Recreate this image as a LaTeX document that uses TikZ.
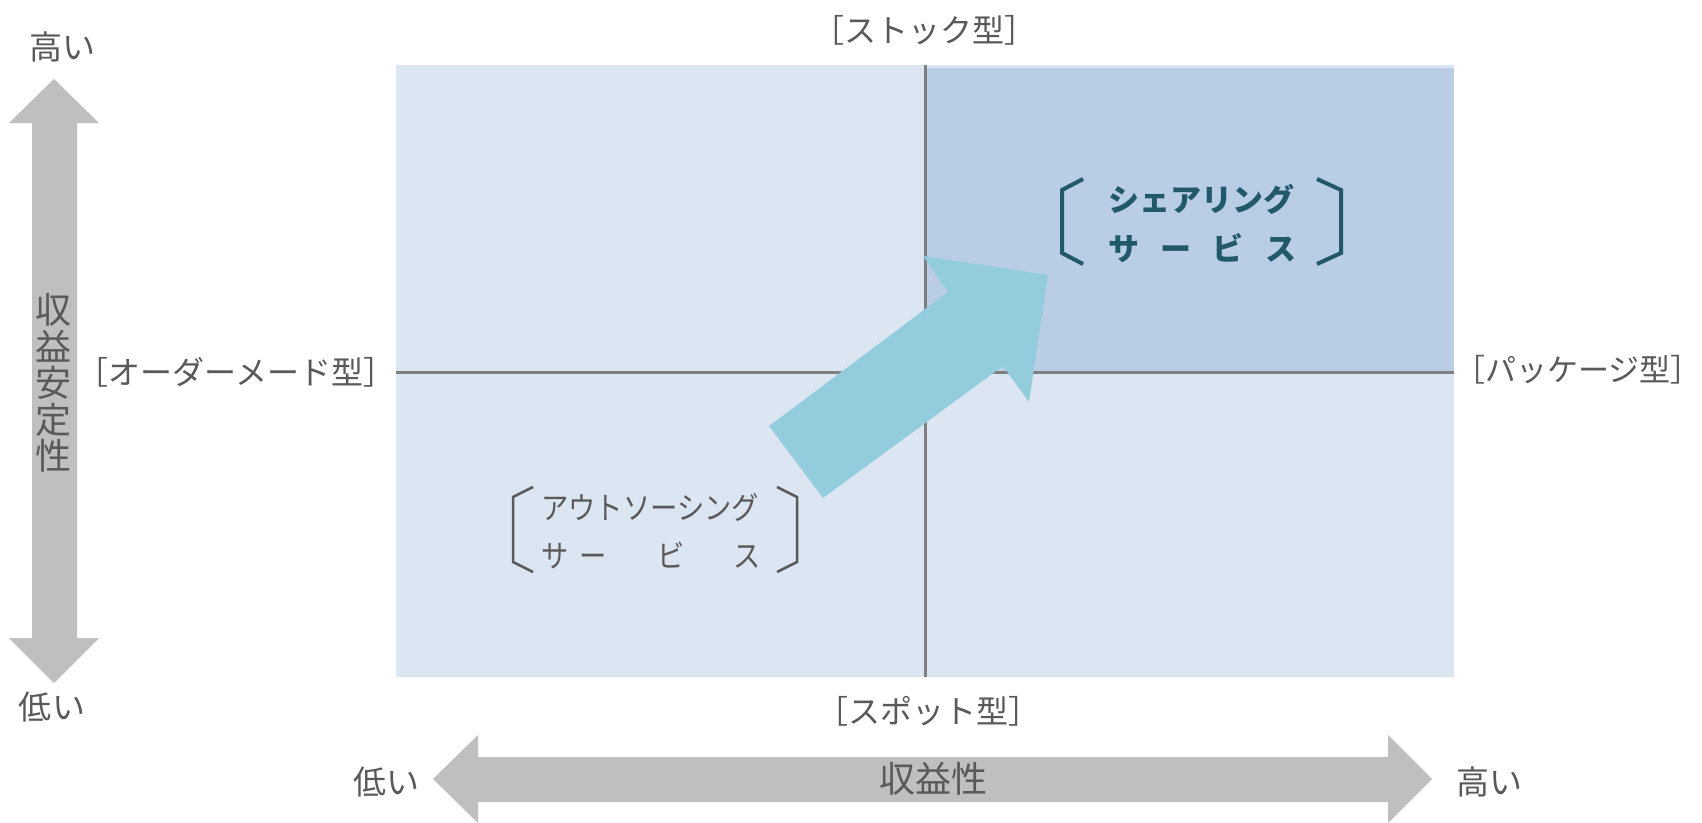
\documentclass[tikz,border=0pt]{standalone}
\usepackage{fontspec}
\newfontfamily\jp{Noto Sans CJK JP}
\newfontfamily\jpn[FakeStretch=0.88]{Noto Sans CJK JP}
\definecolor{lightq}{HTML}{DCE6F2}
\definecolor{darkq}{HTML}{B9CDE5}
\definecolor{axisgray}{HTML}{7F7F7F}
\definecolor{tealarrow}{HTML}{93CDDD}
\definecolor{grayarrow}{HTML}{BFBFBF}
\definecolor{txtgray}{HTML}{595959}
\definecolor{sharecol}{HTML}{215968}
\newcommand{\brkt}[1]{\kern-0.5em［#1］\kern-0.5em}
\tikzset{
  lbl/.style={inner sep=0pt, text=txtgray, font=\jp\fontsize{32}{36}\selectfont},
  axisline/.style={draw=axisgray, line width=3pt},
  bigarrow/.style={fill=grayarrow},
  brk/.style={line width=2.5pt, draw=txtgray},
  sbrk/.style={line width=4pt, draw=sharecol},
}
\begin{document}
\begin{tikzpicture}[x=1pt,y=-1pt]
\useasboundingbox (0,0) rectangle (1702,822);
% quadrants
\fill[lightq] (396,65) rectangle (1454,677);
\fill[darkq] (925,68) rectangle (1454,372);
\coordinate (vt) at (925,65);
\coordinate (vb) at (925,677);
\coordinate (hl) at (396,372);
\coordinate (hr) at (1454,372);
\draw[axisline] (vt) -- (vb);
\draw[axisline] (hl) -- (hr);
% teal arrow
\fill[tealarrow] (769,426) -- (948,292) -- (923,256) -- (1048,275) -- (1029,402) -- (1003,366) -- (823,498) -- cycle;
% vertical gray double arrow
\fill[bigarrow] (54,79) -- (99,123) -- (77,123) -- (77,638) -- (99,638) -- (54,683) -- (9,638) -- (32,638) -- (32,123) -- (9,123) -- cycle;
% horizontal gray double arrow
\fill[bigarrow] (433,779) -- (478,735) -- (478,757) -- (1388,757) -- (1388,735) -- (1432,779) -- (1388,823) -- (1388,802) -- (478,802) -- (478,823) -- cycle;
% axis texts
\node[lbl, font=\jp\fontsize{33}{36}\selectfont] (vhigh) at (62,47) {高い};
\node[lbl, font=\jp\fontsize{33}{36}\selectfont] (vlow) at (52,707) {低い};
\node[lbl, font=\jp\fontsize{33}{36}\selectfont] (hlow) at (386,782) {低い};
\node[lbl, font=\jp\fontsize{33}{36}\selectfont] (hhigh) at (1489,782) {高い};
\node[lbl, font=\jp\fontsize{36}{36.5}\selectfont, align=center] (vtitle) at (53,383) {収\\益\\安\\定\\性};
\node[lbl, font=\jp\fontsize{36}{40}\selectfont] (htitle) at (933,779) {収益性};
% quadrant labels
\node[lbl] (stock) at (924,30) {\brkt{ストック型}};
\node[lbl] (spot) at (928,711) {\brkt{スポット型}};
\node[lbl] (order) at (236,372) {\brkt{オーダーメード型}};
\node[lbl, font=\jp\fontsize{31}{36}\selectfont] (pkg) at (1578,370) {\brkt{パッケージ型}};
% outsourcing
\draw[brk] (533,487) -- (513,497) -- (513,562) -- (533,572);
\draw[brk] (777,487) -- (797,497) -- (797,562) -- (777,572);
\node[lbl, font=\jpn\fontsize{31}{34}\selectfont, anchor=west] (out1) at (541,508) {アウトソーシング};
\node[lbl, font=\jpn\fontsize{31}{34}\selectfont, anchor=west] (out2) at (541,555) {サ\hspace{11pt}ー\hspace{51pt}ビ\hspace{48pt}ス};
% sharing
\draw[sbrk] (1083,179) -- (1062,190) -- (1062,253) -- (1083,264);
\draw[sbrk] (1317,179) -- (1341,190) -- (1341,253) -- (1317,264);
\node[lbl, text=sharecol, font=\jp\bfseries\fontsize{31}{34}\selectfont, anchor=west] (sh1) at (1108,199) {シェアリング};
\node[lbl, text=sharecol, font=\jp\bfseries\fontsize{31}{34}\selectfont, anchor=west] (sh2) at (1108,248) {\makebox[188pt][s]{サ\hfill ー\hfill ビ\hfill ス}};
\end{tikzpicture}
\end{document}
